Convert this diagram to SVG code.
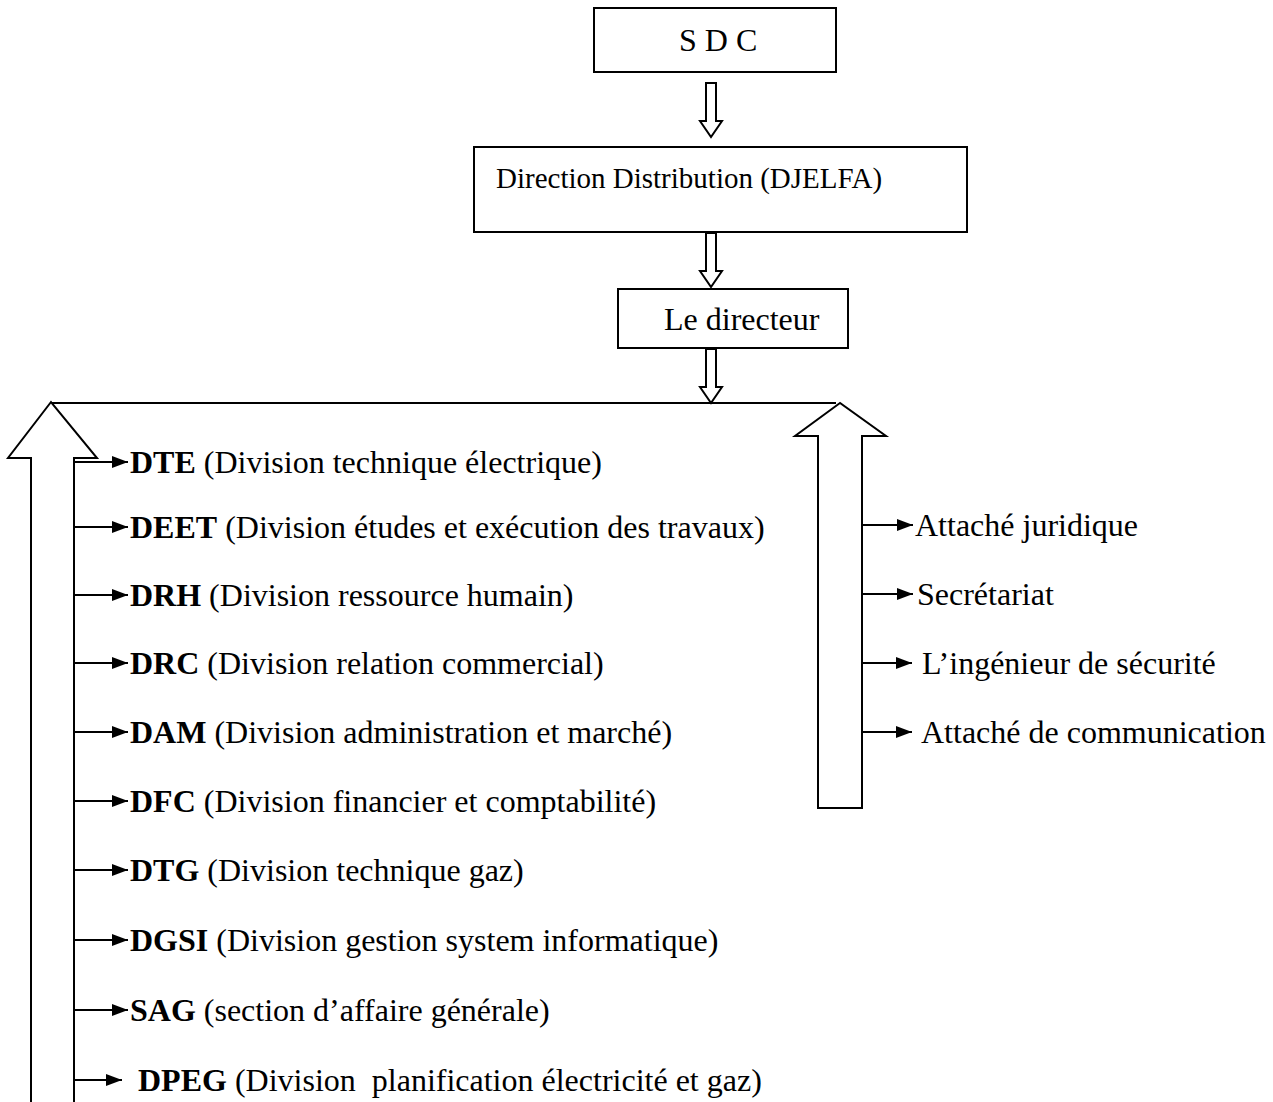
<svg xmlns="http://www.w3.org/2000/svg" width="1273" height="1102" viewBox="0 0 1273 1102">
<style>
text{font-family:"Liberation Serif","Times New Roman",serif;font-size:32px;fill:#000}
.b{font-weight:bold}
.box{fill:#fff;stroke:#000;stroke-width:2}
.big{fill:#fff;stroke:#000;stroke-width:2;stroke-linejoin:miter}
.ln{stroke:#000;stroke-width:2;fill:none}
</style>
<defs>
<marker id="ah" viewBox="0 0 16 12" refX="16" refY="6" markerWidth="16" markerHeight="12" markerUnits="userSpaceOnUse" orient="auto">
<path d="M0,0 L16,6 L0,12 z" fill="#000"/>
</marker>
<path id="hollow" d="M-5,0 L5,0 L5,38 L11,38 L0,54 L-11,38 L-5,38 Z" class="big"/>
</defs>
<rect width="1273" height="1102" fill="#fff"/>

<g id="connectors">
<use href="#hollow" x="711" y="83"/>
<use href="#hollow" x="711" y="233"/>
<use href="#hollow" x="711" y="349"/>
<line class="ln" x1="50" y1="403" x2="836" y2="403"/>
<polygon class="big" points="51,402 8,458 31,458 31,1104 74,1104 74,458 97,458"/>
<polygon class="big" points="840,403 795,436 818,436 818,808 862,808 862,436 886,436"/>
<g marker-end="url(#ah)">
<line class="ln" x1="75" y1="462" x2="128" y2="462"/>
<line class="ln" x1="75" y1="527" x2="128" y2="527"/>
<line class="ln" x1="75" y1="595" x2="128" y2="595"/>
<line class="ln" x1="75" y1="663" x2="128" y2="663"/>
<line class="ln" x1="75" y1="732" x2="128" y2="732"/>
<line class="ln" x1="75" y1="801" x2="128" y2="801"/>
<line class="ln" x1="75" y1="870" x2="128" y2="870"/>
<line class="ln" x1="75" y1="940" x2="128" y2="940"/>
<line class="ln" x1="75" y1="1010" x2="128" y2="1010"/>
<line class="ln" x1="75" y1="1080" x2="122" y2="1080"/>
<line class="ln" x1="862" y1="525" x2="913" y2="525"/>
<line class="ln" x1="862" y1="594" x2="913" y2="594"/>
<line class="ln" x1="862" y1="663" x2="912" y2="663"/>
<line class="ln" x1="862" y1="732" x2="912" y2="732"/>
</g>
</g>

<g id="sdc">
<rect class="box" x="594" y="8" width="242" height="64"/>
<text x="679" y="51">S D C</text>
</g>
<g id="direction">
<rect class="box" x="474" y="147" width="493" height="85"/>
<text x="496" y="188" style="font-size:29px">Direction Distribution (DJELFA)</text>
</g>
<g id="directeur">
<rect class="box" x="618" y="289" width="230" height="59"/>
<text x="664" y="330">Le directeur</text>
</g>

<g id="dte"><text x="130" y="473"><tspan class="b">DTE</tspan> (Division technique électrique)</text></g>
<g id="deet"><text x="130" y="538"><tspan class="b">DEET</tspan> (Division études et exécution des travaux)</text></g>
<g id="drh"><text x="130" y="606"><tspan class="b">DRH</tspan> (Division ressource humain)</text></g>
<g id="drc"><text x="130" y="674"><tspan class="b">DRC</tspan> (Division relation commercial)</text></g>
<g id="dam"><text x="130" y="743"><tspan class="b">DAM</tspan> (Division administration et marché)</text></g>
<g id="dfc"><text x="130" y="812"><tspan class="b">DFC</tspan> (Division financier et comptabilité)</text></g>
<g id="dtg"><text x="130" y="881"><tspan class="b">DTG</tspan> (Division technique gaz)</text></g>
<g id="dgsi"><text x="130" y="951"><tspan class="b">DGSI</tspan> (Division gestion system informatique)</text></g>
<g id="sag"><text x="130" y="1021"><tspan class="b">SAG</tspan> (section d’affaire générale)</text></g>
<g id="dpeg"><text x="138" y="1091" style="white-space:pre"><tspan class="b">DPEG</tspan> (Division  planification électricité et gaz)</text></g>

<g id="juridique"><text x="915" y="536">Attaché juridique</text></g>
<g id="secretariat"><text x="917" y="605">Secrétariat</text></g>
<g id="ingenieur"><text x="922" y="674">L’ingénieur de sécurité</text></g>
<g id="communication"><text x="921" y="743">Attaché de communication</text></g>
</svg>
